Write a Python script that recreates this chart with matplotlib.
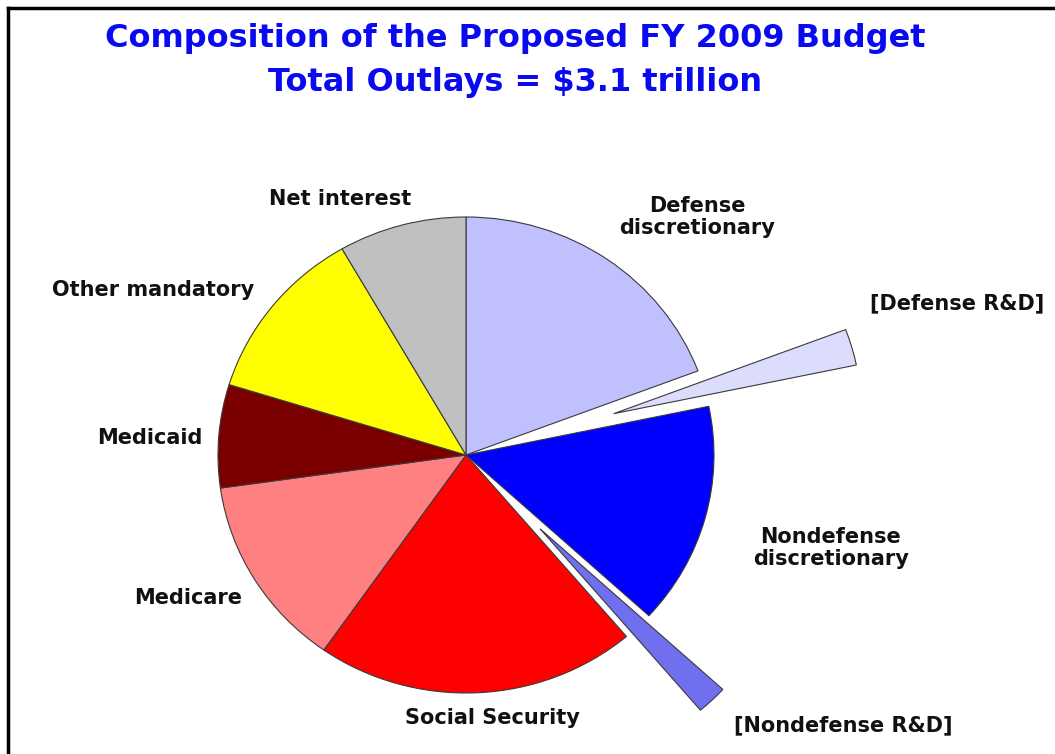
import matplotlib
matplotlib.use("Agg")
import matplotlib.pyplot as plt
from matplotlib.lines import Line2D

plt.rcParams['font.family'] = ['DejaVu Sans']

# shares of total outlays (percent), clockwise from 12 o'clock
categories = ["Defense discretionary", "[Defense R&D]", "Nondefense discretionary",
              "[Nondefense R&D]", "Social Security", "Medicare", "Medicaid",
              "Other mandatory", "Net interest"]
shares = [19.25, 2.47, 15.08, 2.0, 20.92, 13.06, 7.0, 11.89, 8.33]
colors = ["#c0c0ff", "#dcdcfc", "#0000ff", "#6f6ff0", "#ff0000",
          "#ff8080", "#7a0000", "#ffff00", "#c0c0c0"]
explode = [0, 0.62, 0, 0.43, 0, 0, 0, 0, 0]

label_text = ["Defense\ndiscretionary", "[Defense R&D]", "Nondefense\ndiscretionary",
              "[Nondefense R&D]", "Social Security", "Medicare", "Medicaid",
              "Other mandatory", "Net interest"]
# label centres in pixels (x, y from top)
label_pos = [(697, 217), (957, 303), (831, 548), (843, 725), (492, 718),
             (188, 598), (150, 438), (153, 290), (340, 199)]

W, H = 1055, 754
cx, cy, rx, ry = 466, 455, 248, 238

fig = plt.figure(figsize=(W / 100, H / 100), dpi=100)
ax = fig.add_axes([0, 0, 1, 1])
ax.pie(shares, colors=colors, explode=explode, startangle=90, counterclock=False,
       wedgeprops=dict(edgecolor="#3a3a3a", linewidth=0.8))
ax.set_aspect('auto')
ax.set_xlim(-cx / rx, (W - cx) / rx)
ax.set_ylim((cy - H) / ry, cy / ry)
ax.axis('off')

for txt, (px, py) in zip(label_text, label_pos):
    fig.text(px / W, 1 - py / H, txt, ha='center', va='center', fontsize=15,
             fontweight='bold', color='#111111', linespacing=1.1)

fig.text(515 / W, 1 - 38 / H, "Composition of the Proposed FY 2009 Budget",
         ha='center', va='center', fontsize=23, fontweight='bold', color='#0a0af0')
fig.text(515 / W, 1 - 82 / H, "Total Outlays = $3.1 trillion",
         ha='center', va='center', fontsize=23, fontweight='bold', color='#0a0af0')

# frame lines (top and left)
fig.add_artist(Line2D([8 / W, 1], [1 - 8 / H, 1 - 8 / H], transform=fig.transFigure,
                      color='black', linewidth=2.5))
fig.add_artist(Line2D([8 / W, 8 / W], [0, 1 - 8 / H], transform=fig.transFigure,
                      color='black', linewidth=2.5))

fig.savefig("out.png", dpi=100)
